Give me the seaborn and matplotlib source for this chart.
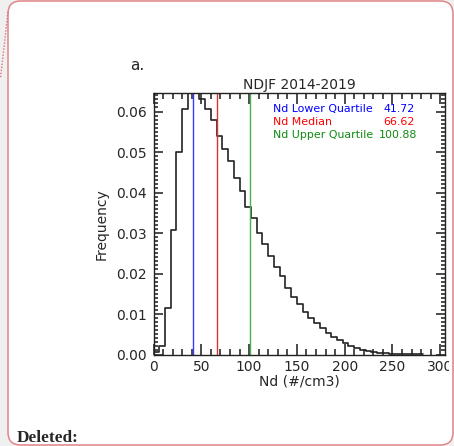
import numpy as np
import pandas as pd
import matplotlib
matplotlib.use("Agg")
import matplotlib.pyplot as plt
import seaborn as sns
from matplotlib.patches import FancyBboxPatch, Rectangle
from matplotlib.lines import Line2D
from matplotlib.ticker import MultipleLocator

# ---------------- data ----------------
bin_width = 6
bin_left = [0, 6, 12, 18, 24, 30, 36, 42, 48, 54, 60, 66, 72, 78, 84, 90,
            96, 102, 108, 114, 120, 126, 132, 138, 144, 150, 156, 162, 168,
            174, 180, 186, 192, 198, 204, 210, 216, 222, 228, 234, 240, 246,
            252, 258, 264, 270, 276]
frequency = [0.0005, 0.0021, 0.0116, 0.0308, 0.0501, 0.0607, 0.0660, 0.0665,
             0.0630, 0.0605, 0.0578, 0.0539, 0.0508, 0.0477, 0.0436, 0.0403,
             0.0365, 0.0336, 0.0301, 0.0274, 0.0243, 0.0215, 0.0193, 0.0165,
             0.0142, 0.0124, 0.0105, 0.0091, 0.0078, 0.0065, 0.0053, 0.0043,
             0.0035, 0.0028, 0.0021, 0.0016, 0.0012, 0.0009, 0.0006, 0.0004,
             0.0003, 0.0002, 0.00015, 0.0001, 0.00007, 0.00004, 0.00002]

stat_labels = ["Nd Lower Quartile", "Nd Median", "Nd Upper Quartile"]
stat_values = [41.72, 66.62, 100.88]
stat_text = ["41.72", "66.62", "100.88"]
stat_text_colors = ["#0000ff", "#ff0000", "#108a10"]
stat_line_colors = ["#3a3aff", "#e03030", "#4caf4c"]

x_major_ticks = [0, 50, 100, 150, 200, 250, 300]
y_major_ticks = [0.00, 0.01, 0.02, 0.03, 0.04, 0.05, 0.06]

title = "NDJF 2014-2019"
xlabel = "Nd (#/cm3)"
ylabel = "Frequency"
panel_label = "a."

df = pd.DataFrame({"left": bin_left, "freq": frequency})
df["center"] = df["left"] + bin_width / 2
edges = list(bin_left) + [bin_left[-1] + bin_width]

# ---------------- figure ----------------
sns.set_style("ticks")
plt.rcParams["font.family"] = ["DejaVu Sans"]

W, H = 454, 446
fig = plt.figure(figsize=(W / 100, H / 100), dpi=100, facecolor="#f0f0f0")

def fx(px):
    return px / W

def fy(py):
    return 1 - py / H

ax = fig.add_axes([fx(153.5), fy(354.5), fx(445) - fx(153.5), fy(93.3) - fy(354.5)])

sns.histplot(data=df, x="center", weights="freq", bins=edges, element="step",
             fill=False, color="#222222", linewidth=1.2, ax=ax)

for v, c in zip(stat_values, stat_line_colors):
    ax.axvline(v, color=c, lw=1.0)

ax.set_xlim(0, 305)
ax.set_ylim(0, 0.0645)

ax.set_xticks(x_major_ticks)
ax.set_yticks(y_major_ticks)
ax.set_yticklabels([f"{v:.2f}" for v in y_major_ticks])
ax.xaxis.set_minor_locator(MultipleLocator(10))
ax.yaxis.set_minor_locator(MultipleLocator(0.001))

ax.tick_params(which="both", direction="in", top=True, right=True,
               labelsize=10, color="#1a1a1a", width=1.1)
ax.tick_params(axis="x", which="major", length=8, pad=4)
ax.tick_params(axis="x", which="minor", length=4)
ax.tick_params(axis="y", which="major", length=6.5, pad=5)
ax.tick_params(axis="y", which="minor", length=3.2)
for s in ax.spines.values():
    s.set_linewidth(1.0)
    s.set_color("#222222")

ax.set_title(title, fontsize=10, pad=3)
ax.set_xlabel(xlabel, fontsize=10, labelpad=0)
ax.set_ylabel(ylabel, fontsize=10, labelpad=5)

# quartile annotations
ys = [109.3, 122.3, 135.0]
xr = [414.3, 414.3, 416.7]
for lab, txt, col, y, x in zip(stat_labels, stat_text, stat_text_colors, ys, xr):
    fig.text(fx(273.3), fy(y), lab, color=col, fontsize=7.9, ha="left", va="center")
    fig.text(fx(x), fy(y), txt, color=col, fontsize=7.9, ha="right", va="center")

fig.text(fx(137.5), fy(65), panel_label, fontsize=11, ha="center", va="center")

fig.text(fx(17), fy(441.5), "Deleted:", fontsize=12.4, fontweight="bold",
         family=["Liberation Serif", "DejaVu Serif"], ha="left", va="baseline")

# outer rounded red frame (document comment box)
frame = FancyBboxPatch((fx(8), fy(445)), fx(453) - fx(8), fy(1) - fy(445),
                       boxstyle="round,pad=0,rounding_size=0.028",
                       mutation_aspect=W / H,
                       transform=fig.transFigure, fc="white",
                       ec="#e0858a", lw=1.1, zorder=-5)
fig.add_artist(frame)
dot = Line2D([fx(8), fx(0.5)], [fy(12), fy(78)], transform=fig.transFigure,
             ls=(0, (1, 1.2)), color="#d9707a", lw=1.0, zorder=-4)
fig.add_artist(dot)
clip = Rectangle((fx(449.3), fy(380)), fx(3.0), 30 / H, transform=fig.transFigure,
                 fc="white", ec="none", zorder=5)
fig.add_artist(clip)

fig.savefig("out.png", dpi=100)
